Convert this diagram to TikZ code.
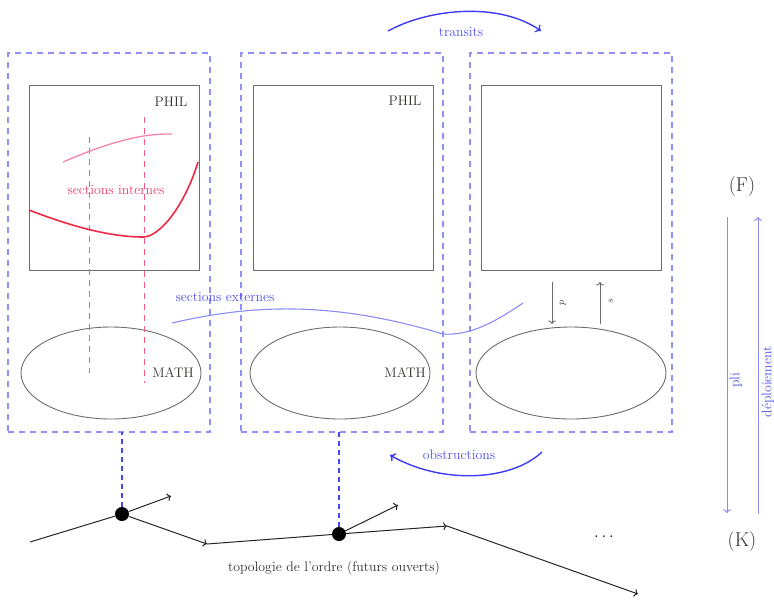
\documentclass[tikz,border=0pt]{standalone}
\usetikzlibrary{shapes.geometric,arrows.meta}
\definecolor{panelblue}{RGB}{145,145,245}
\definecolor{linkblue}{RGB}{70,70,240}
\definecolor{arcblue}{RGB}{60,60,245}
\definecolor{txtblue}{RGB}{80,80,235}
\definecolor{lineblue}{RGB}{140,140,245}
\definecolor{boxgray}{RGB}{105,110,105}
\definecolor{txtgray}{RGB}{45,50,45}
\definecolor{redc}{RGB}{240,40,70}
\definecolor{pinkc}{RGB}{245,130,170}
\definecolor{pinkdash}{RGB}{245,90,130}
\definecolor{pinktxt}{RGB}{240,60,110}
\begin{document}
\begin{tikzpicture}[x=1pt,y=-1pt,
  lbl/.style={inner sep=0pt,font=\fontsize{13.8}{16}\selectfont},
  panel/.style={draw=panelblue,line width=1.1pt,dash pattern=on 6pt off 5pt,rectangle,inner sep=0pt,outer sep=0pt,minimum height=379pt},
  sqbox/.style={draw=boxgray,line width=0.9pt,rectangle,inner sep=0pt,outer sep=0pt,minimum height=185pt},
  ellbox/.style={draw=boxgray,line width=0.9pt,ellipse,inner sep=0pt,outer sep=0pt,minimum height=92pt},
  dotnode/.style={circle,fill=black,inner sep=0pt,minimum size=14pt},
  link/.style={draw=linkblue,line width=1.7pt,dash pattern=on 5pt off 4pt},
  bigarc/.style={draw=arcblue,line width=1.4pt,-{To[length=5pt,width=9pt]}},
  edge/.style={draw=black!85,line width=1pt},
  vert/.style={draw=lineblue,line width=1pt},
  pinkv/.style={draw=pinkdash,line width=1.1pt,dash pattern=on 6pt off 5pt}
]
\useasboundingbox (0,0) rectangle (774,603);

% panels
\node[panel,minimum width=202pt] (p1) at (109,242.5) {};
\node[panel,minimum width=202pt] (p2) at (342,242.5) {};
\node[panel,minimum width=202pt] (p3) at (571,242.5) {};

% squares (PHIL)
\node[sqbox,minimum width=170pt] (sq1) at (114,177.5) {};
\node[sqbox,minimum width=180pt] (sq2) at (343,177.5) {};
\node[sqbox,minimum width=180pt] (sq3) at (571,177.5) {};

% ellipses (MATH)
\node[ellbox,minimum width=180pt] (e1) at (111,373) {};
\node[ellbox,minimum width=180pt] (e2) at (340,373) {};
\node[ellbox,minimum width=190pt] (e3) at (571,373) {};

\node[lbl,text=txtgray] (phil1) at (171,102) {PHIL};
\node[lbl,text=txtgray] (phil2) at (405,101) {PHIL};
\node[lbl,text=txtgray] (math1) at (173,373) {MATH};
\node[lbl,text=txtgray] (math2) at (405,373) {MATH};

% internal sections
\draw[pinkv] (89.5,137) -- (89.5,373);
\draw[pinkv] (144.5,117) -- (144.5,383);
\draw[pinkc,line width=1.3pt] (63,162) .. controls (100,146) and (138,133) .. (172,134);
\draw[redc,line width=1.6pt] (29,210) .. controls (70,226) and (110,237) .. (143,237)
   .. controls (160,237) and (185,205) .. (198,162);
\node[lbl,text=pinktxt] (si) at (116,190) {sections internes};

% external sections
\draw[lineblue,line width=1.1pt] (172,323) .. controls (250,305) and (330,300) .. (443,334)
   .. controls (470,336) and (495,322) .. (523,303);
\node[lbl,text=txtblue] (se) at (225,297) {sections externes};

% p and s arrows
\coordinate (ptop) at (552,282);
\coordinate (pbot) at (552,324);
\coordinate (sbot) at (600,324);
\coordinate (stop) at (600,282);
\draw[boxgray,line width=0.9pt,->] (ptop) -- (pbot);
\draw[boxgray,line width=0.9pt,->] (sbot) -- (stop);
\node[inner sep=0pt,rotate=90,text=txtgray,font=\fontsize{10}{12}\selectfont] (plbl) at (563,303) {$p$};
\node[inner sep=0pt,rotate=90,text=txtgray,font=\fontsize{10}{12}\selectfont] (slbl) at (611,301) {$s$};

% transits / obstructions
\coordinate (tr1) at (388,31);
\coordinate (tr2) at (541,31);
\draw[bigarc] (tr1) .. controls (430,8) and (500,2) .. (tr2);
\node[lbl,text=txtblue] (trl) at (461,32) {transits};
\coordinate (ob1) at (542,452);
\coordinate (ob2) at (390,455);
\draw[bigarc] (ob1) .. controls (510,482) and (440,484) .. (ob2);
\node[lbl,text=txtblue] (obl) at (459,455) {obstructions};

% bottom graph
\node[dotnode] (d1) at (122,514) {};
\node[dotnode] (d2) at (339,534) {};
\coordinate (a0) at (30,542);
\coordinate (a1) at (171,496);
\coordinate (a2) at (207,544);
\coordinate (a3) at (398,505);
\coordinate (a4) at (447,526);
\coordinate (a5) at (638,594);
\draw[link] (d1) -- (d1 |- p1.south);
\draw[link] (d2) -- (d2 |- p2.south);
\draw[edge] (a0) -- (d1);
\draw[edge,->] (d1) -- (a1);
\draw[edge,->] (d1) -- (a2);
\draw[edge] (a2) -- (d2);
\draw[edge,->] (d2) -- (a3);
\draw[edge,->] (d2) -- (a4);
\draw[edge,->] (a4) -- (a5);
\node[lbl,text=txtgray] (topo) at (334,568) {topologie de l'ordre (futurs ouverts)};
\node[inner sep=0pt,text=black,font=\fontsize{17}{20}\selectfont] (dots) at (604,537) {$\dots$};

% F / K
\node[inner sep=0pt,font=\fontsize{20}{24}\selectfont,text=txtgray] (F) at (742,187) {(F)};
\node[inner sep=0pt,font=\fontsize{20}{24}\selectfont,text=txtgray] (K) at (742,542) {(K)};
\coordinate (pl1) at (727,217);
\coordinate (pl2) at (727,513);
\coordinate (de1) at (758,514);
\coordinate (de2) at (758,217);
\draw[vert,->] (pl1) -- (pl2);
\draw[vert,->] (de1) -- (de2);
\node[lbl,rotate=90,text=txtblue] (pli) at (736,380) {pli};
\node[lbl,rotate=90,text=txtblue] (dep) at (768,382) {déploiement};
\end{tikzpicture}
\end{document}
